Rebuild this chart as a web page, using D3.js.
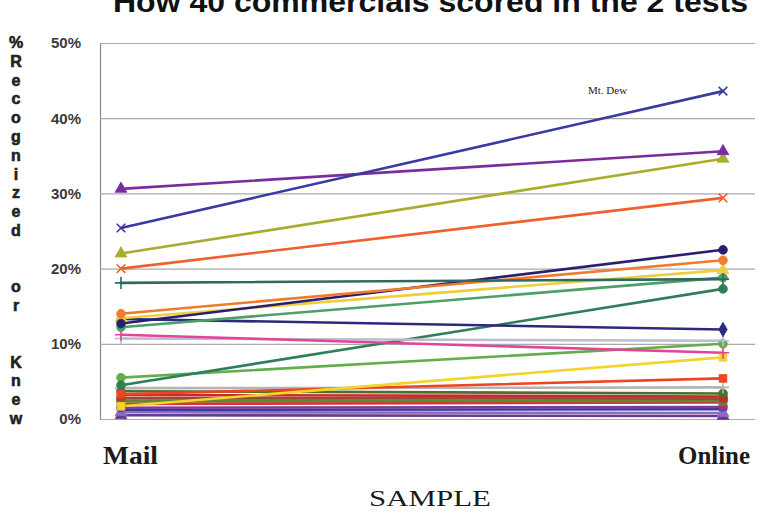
<!DOCTYPE html>
<html>
<head>
<meta charset="utf-8">
<script src="https://cdn.jsdelivr.net/npm/d3@7"></script>
<style>
  html, body { margin: 0; padding: 0; background: #ffffff; }
  svg { display: block; }
</style>
</head>
<body>
<svg id="chart" width="762" height="514"></svg>
<script>
// Two test methods on the x axis
const samples = ["Mail", "Online"];

// Share of respondents who recognized or knew each commercial (%)
const mailValues   = [25.4, 30.6, 22.0, 20.0, 18.1, 14.0, 12.7, 13.4, 12.2, 13.3, 11.2, 10.7,
                      4.5, 5.5, 1.7, 3.3, 4.1, 3.7, 3.2, 2.8, 2.4, 2.0, 2.2, 1.5, 0.9, 0.5, 2.6, 1.2];
const onlineValues = [43.6, 35.6, 34.6, 29.4, 18.6, 21.1, 22.5, 19.8, 18.8, 11.9, 8.8, 10.4,
                      17.3, 10.0, 8.2, 5.4, 4.2, 3.4, 3.0, 2.7, 2.4, 2.2, 2.5, 1.6, 0.8, 0.4, 2.9, 1.3];

// Line colours and end markers, one per commercial
const lineColors = ["#3c3aa2", "#7b2c9c", "#a9ad2e", "#ef602e", "#2f6a5c", "#f07b2e", "#2a1f6e",
                    "#ebd03c", "#4aa066", "#2b2a7c", "#e2449c", "#bcbccc",
                    "#2e7f58", "#64ae4a", "#f2d42a", "#ee4422", "#b4b4b4", "#4e6e2a", "#c62a2a",
                    "#9a4a30", "#5a8a3a", "#e03232", "#c8a060", "#7a3aa0", "#8a6ac8", "#6a3a8a",
                    "#e08030", "#3a3a9a"];
const markerKinds = ["times", "triangle", "triangle", "times", "plus", "circle", "circle",
                     "triangle", "circle", "diamond", "plus", "plus",
                     "circle", "circle", "square", "square", "plus", "circle", "square",
                     "circle", "circle", "square", "circle", "circle", "triangle", "triangle",
                     "circle", "diamond"];

// Y axis ticks
const yTicks = [0, 10, 20, 30, 40, 50];
const yLabelLetters = ["%", "R", "e", "c", "o", "g", "n", "i", "z", "e", "d", "", "",
                       "o", "r", "", "", "K", "n", "e", "w"];

const svg = d3.select("#chart");

const x = d3.scalePoint().domain(samples).range([121, 723]);
const y = d3.scaleLinear().domain([0, 50]).range([419, 43]);

// Title, running off the top edge
svg.append("text")
  .attr("x", 113).attr("y", 12)
  .attr("textLength", 635)
  .attr("lengthAdjust", "spacingAndGlyphs")
  .attr("font-family", "Liberation Sans, Arial, sans-serif")
  .attr("font-weight", "bold")
  .attr("font-size", 30)
  .attr("fill", "#111")
  .text("How 40 commercials scored in the 2 tests");

// Gridlines and tick labels
const yAxis = d3.axisLeft(y)
  .tickValues(yTicks)
  .tickSize(-655)
  .tickPadding(6)
  .tickFormat(d => d + "%");

const gAxis = svg.append("g")
  .attr("transform", "translate(100,0)")
  .call(yAxis);
gAxis.select(".domain").attr("stroke", "#8a8a8a").attr("stroke-width", 1.2);
gAxis.selectAll(".tick line").attr("stroke", "#aaaaaa").attr("stroke-width", 1.2);
gAxis.selectAll(".tick text")
  .attr("x", -19)
  .attr("font-family", "Liberation Sans, Arial, sans-serif")
  .attr("font-weight", "bold")
  .attr("font-size", 15)
  .attr("fill", "#3a3a3a");

// Vertical axis title, one letter per row
svg.append("g").selectAll("text")
  .data(yLabelLetters)
  .join("text")
  .attr("x", 16)
  .attr("y", (d, i) => 48 + i * 18.8)
  .attr("text-anchor", "middle")
  .attr("font-family", "Liberation Sans, Arial, sans-serif")
  .attr("font-weight", "bold")
  .attr("font-size", 16)
  .attr("fill", "#222")
  .attr("stroke", "#222")
  .attr("stroke-width", 0.6)
  .text(d => d);

// Build one record per commercial
const series = mailValues.map((m, i) => ({
  values: [m, onlineValues[i]],
  color: lineColors[i],
  marker: markerKinds[i]
}));

const symbolFor = {
  circle: d3.symbolCircle,
  triangle: d3.symbolTriangle,
  square: d3.symbolSquare,
  diamond: d3.symbolDiamond,
  plus: d3.symbolPlus || d3.symbolCross,
  times: d3.symbolTimes || d3.symbolCross
};
const isStroked = k => k === "plus" || k === "times";

const line = d3.line()
  .x((d, i) => x(samples[i]))
  .y(d => y(d));

// Draw from the lowest to the highest so the top lines stay visible
const order = series.slice().reverse();

svg.append("g").selectAll("path")
  .data(order)
  .join("path")
  .attr("d", s => line(s.values))
  .attr("fill", "none")
  .attr("stroke", s => s.color)
  .attr("stroke-width", 2.6)
  .attr("stroke-linecap", "round");

// End markers at both samples
const marks = [];
order.forEach(s => s.values.forEach((v, i) => marks.push({ s, v, i })));

svg.append("g").selectAll("path")
  .data(marks)
  .join("path")
  .attr("transform", d => `translate(${x(samples[d.i])},${y(d.v)})`)
  .attr("d", d => d3.symbol(symbolFor[d.s.marker], isStroked(d.s.marker) ? 50 : 60)())
  .attr("fill", d => isStroked(d.s.marker) ? "none" : d.s.color)
  .attr("stroke", d => d.s.color)
  .attr("stroke-width", d => isStroked(d.s.marker) ? 1.6 : 0.8);

// Callout for the top scorer
svg.append("text")
  .attr("x", 588).attr("y", 94)
  .attr("font-family", "Liberation Serif, Times New Roman, serif")
  .attr("font-size", 11)
  .attr("fill", "#222")
  .text("Mt. Dew");

// Category labels under the plot
svg.append("text")
  .attr("x", 103).attr("y", 464)
  .attr("textLength", 55)
  .attr("lengthAdjust", "spacingAndGlyphs")
  .attr("font-family", "Liberation Serif, Times New Roman, serif")
  .attr("font-weight", "bold")
  .attr("font-size", 25)
  .attr("fill", "#1a1a1a")
  .text(samples[0]);

svg.append("text")
  .attr("x", 678).attr("y", 464)
  .attr("textLength", 72)
  .attr("lengthAdjust", "spacingAndGlyphs")
  .attr("font-family", "Liberation Serif, Times New Roman, serif")
  .attr("font-weight", "bold")
  .attr("font-size", 25)
  .attr("fill", "#1a1a1a")
  .text(samples[1]);

svg.append("text")
  .attr("x", 369).attr("y", 506)
  .attr("textLength", 122)
  .attr("lengthAdjust", "spacingAndGlyphs")
  .attr("font-family", "Liberation Serif, Times New Roman, serif")
  .attr("font-size", 24)
  .attr("fill", "#1a1a1a")
  .text("SAMPLE");
</script>
</body>
</html>
